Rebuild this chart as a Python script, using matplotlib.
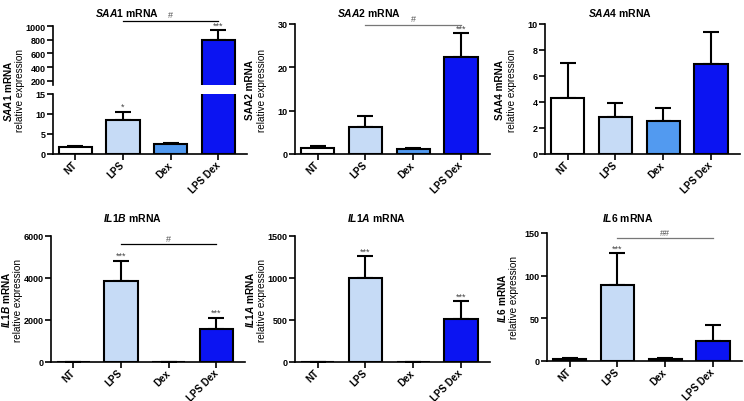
import numpy as np
import matplotlib
matplotlib.use('Agg')
import matplotlib.pyplot as plt
from matplotlib import font_manager

# drop the narrow variant so "Liberation Sans" resolves to the normal width face
font_manager.fontManager.ttflist = [f for f in font_manager.fontManager.ttflist
                                    if 'Narrow' not in f.fname and 'Narrow' not in f.name]

plt.rcParams['font.family'] = ['Liberation Sans', 'DejaVu Sans']
plt.rcParams['font.weight'] = 'bold'
plt.rcParams['mathtext.fontset'] = 'custom'
plt.rcParams['mathtext.it'] = 'Liberation Sans:italic:bold'
plt.rcParams['mathtext.rm'] = 'Liberation Sans:bold'
plt.rcParams['mathtext.bf'] = 'Liberation Sans:bold'

groups = ['NT', 'LPS', 'Dex', 'LPS Dex']
bar_colors = ['#ffffff', '#c6dbf6', '#529af0', '#0b14f2']

saa1_mean = [1.8, 8.4, 2.4, 790]
saa1_err = [0.3, 2.2, 0.3, 150]
saa1_stars = ['', '*', '', '***']

saa2_mean = [1.4, 6.3, 1.15, 22.5]
saa2_err = [0.5, 2.5, 0.3, 5.4]
saa2_stars = ['', '', '', '***']

saa4_mean = [4.28, 2.82, 2.51, 6.9]
saa4_err = [2.75, 1.1, 1.03, 2.45]
saa4_stars = ['', '', '', '']

il1b_mean = [1, 3850, 0.6, 1580]
il1b_err = [0.3, 980, 0.2, 530]
il1b_stars = ['', '***', '', '***']

il1a_mean = [4, 1000, 3, 516]
il1a_err = [1, 258, 1, 210]
il1a_stars = ['', '***', '', '***']

il6_mean = [2.7, 89, 2.5, 24]
il6_err = [0.5, 37.6, 0.5, 17.7]
il6_stars = ['', '***', '', '']

W, H = 744, 402
fig = plt.figure(figsize=(W / 100, H / 100), dpi=100)


def px_axes(left, top, right, bottom):
    return fig.add_axes([left / W, 1 - bottom / H, (right - left) / W, (bottom - top) / H])


def style(ax, yticks, xaxis=True):
    for s in ['top', 'right']:
        ax.spines[s].set_visible(False)
    ax.spines['left'].set_linewidth(1.2)
    ax.spines['bottom'].set_linewidth(1.2)
    ax.set_yticks(yticks)
    ax.tick_params(axis='y', length=4, width=1.2, labelsize=6.5, pad=1.5)
    ax.set_xlim(-0.47, 3.6)
    if xaxis:
        ax.set_xticks(range(len(groups)))
        ax.set_xticklabels(groups, rotation=45, ha='right', va='center',
                           rotation_mode='anchor', fontsize=7)
        ax.tick_params(axis='x', length=4, width=1.2, pad=2.5)
    else:
        ax.spines['bottom'].set_visible(False)
        ax.set_xticks([])


def bars(ax, mean, err, stars=None, show=None):
    idx = np.arange(len(groups)) if show is None else np.array(show)
    m = np.array(mean)[idx]
    e = np.array(err)[idx]
    c = [bar_colors[i] for i in idx]
    ax.errorbar(idx, m, yerr=[np.zeros(len(e)), e], fmt='none', ecolor='black',
                elinewidth=1.5, capsize=6, capthick=1.5, zorder=1)
    ax.bar(idx, m, width=0.7, color=c, edgecolor='black', linewidth=1.5, zorder=2)
    if stars:
        for i in idx:
            if stars[i]:
                ax.annotate(stars[i], (i, mean[i] + err[i]), xytext=(0, 0.5),
                            textcoords='offset points', ha='center', va='bottom',
                            fontsize=6.5, color='#444444', fontweight='normal',
                            annotation_clip=False)


def bracket(ax, y, color, label):
    ax.plot([1, 3], [y, y], color=color, lw=0.9, clip_on=False)
    ax.annotate(label, (2, y), xytext=(0, 1), textcoords='offset points', ha='center',
                va='bottom', fontsize=6.5, color='#555555', fontweight='normal',
                annotation_clip=False)


def ylabels(ax_left, top, bottom, gene, italic_label=True):
    cy = 1 - (top + bottom) / 2 / H
    lab = r'$\mathit{%s}$ mRNA' % gene if italic_label else gene + ' mRNA'
    fig.text((ax_left - 45) / W, cy, lab, rotation=90, ha='center', va='center', fontsize=7.2)
    fig.text((ax_left - 33) / W, cy, 'relative expression', rotation=90, ha='center',
             va='center', fontsize=7.2, fontweight='normal')


def title(x, y, gene):
    fig.text(x / W, 1 - y / H, r'$\mathit{%s}$ mRNA' % gene, ha='center', va='center', fontsize=7.5)


# SAA1 with broken axis
ax1u = px_axes(53, 27, 247, 86)
ax1l = px_axes(53, 95, 247, 155)
bars(ax1u, saa1_mean, saa1_err, saa1_stars, show=[3])
bars(ax1l, saa1_mean, saa1_err, ['', saa1_stars[1], '', ''])
ax1u.set_ylim(140, 1000)
ax1l.set_ylim(0, 15)
style(ax1u, [200, 400, 600, 800, 1000], xaxis=False)
style(ax1l, [0, 5, 10, 15])
bracket(ax1u, 1075, 'black', '#')
ylabels(53, 27, 155, 'SAA1')
title(127, 13, 'SAA1')

# SAA2
ax2 = px_axes(295, 25, 490, 155)
bars(ax2, saa2_mean, saa2_err, saa2_stars)
ax2.set_ylim(0, 30)
style(ax2, [0, 10, 20, 30])
bracket(ax2, 29.8, '#777777', '#')
ylabels(295, 25, 155, 'SAA2', italic_label=False)
title(369, 13, 'SAA2')

# SAA4
ax3 = px_axes(545, 25, 740, 155)
bars(ax3, saa4_mean, saa4_err, saa4_stars)
ax3.set_ylim(0, 10)
style(ax3, [0, 2, 4, 6, 8, 10])
ylabels(545, 25, 155, 'SAA4', italic_label=False)
title(620, 13, 'SAA4')

# IL1B
ax4 = px_axes(51, 237, 245, 363)
bars(ax4, il1b_mean, il1b_err, il1b_stars)
ax4.set_ylim(0, 6000)
style(ax4, [0, 2000, 4000, 6000])
bracket(ax4, 5616, 'black', '#')
ylabels(51, 237, 363, 'IL1B')
title(132, 218, 'IL1B')

# IL1A
ax5 = px_axes(295, 237, 490, 363)
bars(ax5, il1a_mean, il1a_err, il1a_stars)
ax5.set_ylim(0, 1500)
style(ax5, [0, 500, 1000, 1500])
ylabels(295, 237, 363, 'IL1A')
title(376, 218, 'IL1A')

# IL6
ax6 = px_axes(547, 234, 742, 362)
bars(ax6, il6_mean, il6_err, il6_stars)
ax6.set_ylim(0, 150)
style(ax6, [0, 50, 100, 150])
bracket(ax6, 143.8, '#777777', '##')
ylabels(547, 234, 362, 'IL6')
title(628, 218, 'IL6')

fig.savefig('out.png', dpi=100)
